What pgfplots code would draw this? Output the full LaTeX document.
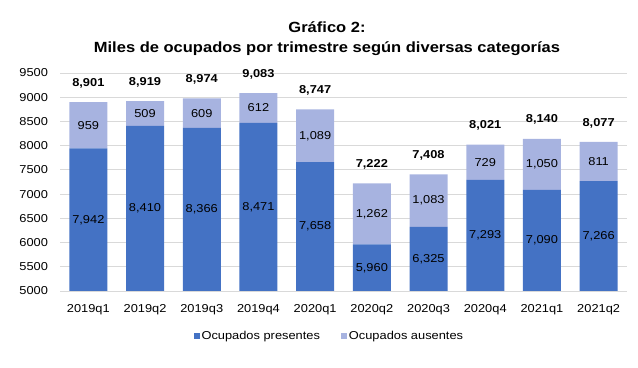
\documentclass[border=0pt]{standalone}
\usepackage{pgfplots}
\pgfplotsset{compat=1.18}
\usepackage{pgfplotstable}
\usepackage{fontspec}
\setmainfont[FakeStretch=1.12]{Liberation Sans}
\definecolor{pres}{HTML}{4472C4}
\definecolor{aus}{HTML}{A7B3E0}
\definecolor{gridc}{HTML}{D9D9D9}
\pgfplotstableread{
x pres aus total
0 7942 959 8901
1 8410 509 8919
2 8366 609 8974
3 8471 612 9083
4 7658 1089 8747
5 5960 1262 7222
6 6325 1083 7408
7 7293 729 8021
8 7090 1050 8140
9 7266 811 8077
}\datatable
\newcommand{\lbl}{\fontsize{11.5}{14}\selectfont}
\pgfplotsset{
  common/.style={
    at={(60bp,77bp)}, anchor=south west,
    scale only axis, width=567bp, height=218bp,
    xmin=-0.5, xmax=9.5, ymin=5000, ymax=9500,
    /pgf/number format/assume math mode=true,
    /pgf/number format/1000 sep={,},
  }
}
\begin{document}
\begin{tikzpicture}
\useasboundingbox (0,0) rectangle (638bp,368bp);
\node[font=\bfseries\fontsize{14.8}{19.5}\selectfont, align=center] at (327bp,329.5bp)
  {Gráfico 2:\\Miles de ocupados por trimestre según diversas categorías};
\begin{axis}[common,
  ybar stacked, bar width=38bp,
  xtick={0,...,9},
  xticklabels={2019q1,2019q2,2019q3,2019q4,2020q1,2020q2,2020q3,2020q4,2021q1,2021q2},
  ytick={5000,5500,...,9500},
  yticklabel style={/pgf/number format/1000 sep={}},
  ymajorgrids, grid style={gridc, line width=0.8bp},
  axis x line*=bottom, axis y line*=left,
  x axis line style={gridc, line width=0.8bp, -},
  y axis line style={draw=none},
  tick style={draw=none},
  tick label style={font=\lbl, text=black},
  xticklabel style={yshift=-9.5bp},
  yticklabel style={xshift=-8.5bp},
  legend columns=2,
  legend image code/.code={\fill[#1] (0bp,-3bp) rectangle (6bp,3bp);},
  legend style={draw=none, at={(0.475,-0.206)}, anchor=center, font=\lbl,
    /tikz/every even column/.append style={column sep=19bp}},
]
\addplot[fill=pres, draw=none] table[x=x, y=pres]{\datatable};
\addplot[fill=aus, draw=none] table[x=x, y=aus]{\datatable};
\legend{Ocupados presentes, Ocupados ausentes}
\end{axis}
\begin{axis}[common, hide axis, clip=false]
\addplot[draw=none, mark=none, nodes near coords, point meta=explicit,
  every node near coord/.append style={anchor=center, text=black, font=\lbl}]
  table[x=x, y expr={(5000+\thisrow{pres})/2}, meta=pres]{\datatable};
\addplot[draw=none, mark=none, nodes near coords, point meta=explicit,
  every node near coord/.append style={anchor=center, text=black, font=\lbl}]
  table[x=x, y expr={\thisrow{pres}+\thisrow{aus}/2}, meta=aus]{\datatable};
\addplot[draw=none, mark=none, nodes near coords, point meta=explicit,
  every node near coord/.append style={anchor=center, text=black, font=\bfseries\lbl, yshift=19bp}]
  table[x=x, y expr={\thisrow{pres}+\thisrow{aus}}, meta=total]{\datatable};
\end{axis}
\end{tikzpicture}
\end{document}
